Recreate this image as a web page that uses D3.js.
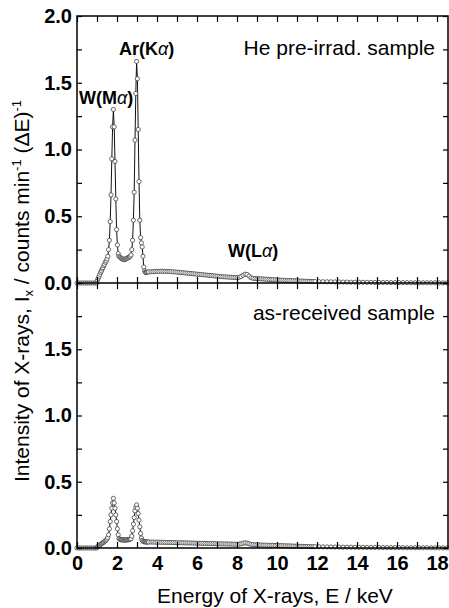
<!DOCTYPE html>
<html>
<head>
<meta charset="utf-8">
<script src="https://cdnjs.cloudflare.com/ajax/libs/d3/7.8.5/d3.min.js"></script>
<style>
  body { margin: 0; background: #fff; }
  svg { display: block; font-family: "Liberation Sans", Arial, sans-serif; }
  .tick text { font-weight: bold; font-size: 20px; fill: #000; }
  .tick line { stroke: #000; stroke-width: 1.2; }
</style>
</head>
<body>
<div id="chart"></div>
<script>
// channel energies (keV)
var baseEnergy = [0, 0.1, 0.2, 0.3, 0.4, 0.5, 0.6, 0.7, 0.8, 0.9];
var peakEnergy = [
  0.98, 1.02, 1.06, 1.10, 1.14, 1.18, 1.22, 1.26, 1.30, 1.34,
  1.38, 1.42, 1.46, 1.50, 1.54, 1.58, 1.62, 1.66, 1.70, 1.74,
  1.78, 1.82, 1.86, 1.90, 1.94, 1.98, 2.02, 2.06, 2.10, 2.14,
  2.18, 2.22, 2.26, 2.30, 2.34, 2.38, 2.42, 2.46, 2.50, 2.54,
  2.58, 2.62, 2.66, 2.70, 2.74, 2.78, 2.82, 2.86, 2.90, 2.94,
  2.98, 3.02, 3.06, 3.10, 3.14, 3.18, 3.22, 3.26, 3.30, 3.34,
  3.38, 3.42, 3.46, 3.50, 3.54, 3.58];
var tailEnergy = [
  3.7, 3.8, 3.9, 4.0, 4.1, 4.2, 4.3, 4.4, 4.5, 4.6,
  4.7, 4.8, 4.9, 5.0, 5.1, 5.2, 5.3, 5.4, 5.5, 5.6,
  5.7, 5.8, 5.9, 6.0, 6.1, 6.2, 6.3, 6.4, 6.5, 6.6,
  6.7, 6.8, 6.9, 7.0, 7.1, 7.2, 7.3, 7.4, 7.5, 7.6,
  7.7, 7.8, 7.9, 8.0, 8.1, 8.2, 8.3, 8.4, 8.5, 8.6,
  8.7, 8.8, 8.9, 9.0, 9.1, 9.2, 9.3, 9.4, 9.5, 9.6,
  9.7, 9.8, 9.9, 10.0, 10.1, 10.2, 10.3, 10.4, 10.5, 10.6,
  10.7, 10.8, 10.9, 11.0, 11.1, 11.2, 11.3, 11.4, 11.5, 11.6,
  11.7, 11.8, 11.9,
  12.1, 12.3, 12.5, 12.7, 12.9, 13.1, 13.3, 13.5, 13.7, 13.9,
  14.1, 14.3, 14.5, 14.7, 14.9, 15.1, 15.3, 15.5, 15.7, 15.9,
  16.1, 16.3, 16.5, 16.7, 16.9, 17.1, 17.3, 17.5, 17.7, 17.9,
  18.1, 18.3, 18.5];

// He pre-irradiated sample, counts min^-1 (dE)^-1
var heBase = [0, 0, 0, 0, 0, 0, 0, 0, 0, 0];
var hePeak = [
  0.00, 0.02, 0.035, 0.05, 0.065, 0.08, 0.09, 0.105, 0.115, 0.13,
  0.14, 0.155, 0.165, 0.18, 0.20, 0.25, 0.32, 0.46, 0.66, 0.93,
  1.17, 1.30, 1.17, 0.91, 0.63, 0.40, 0.285, 0.22, 0.20, 0.195,
  0.19, 0.185, 0.18, 0.18, 0.175, 0.175, 0.18, 0.18, 0.185, 0.19,
  0.19, 0.195, 0.20, 0.21, 0.25, 0.32, 0.47, 0.68, 1.07, 1.42,
  1.66, 1.53, 1.15, 0.76, 0.47, 0.34, 0.30, 0.27, 0.20, 0.12,
  0.09, 0.08, 0.078, 0.08, 0.082, 0.083];
var heTail = [
  0.084, 0.085, 0.086, 0.087, 0.087, 0.088, 0.088, 0.087, 0.087, 0.086,
  0.085, 0.084, 0.083, 0.081, 0.080, 0.078, 0.077, 0.075, 0.074, 0.072,
  0.071, 0.069, 0.068, 0.066, 0.065, 0.063, 0.062, 0.060, 0.059, 0.057,
  0.056, 0.054, 0.053, 0.051, 0.050, 0.048, 0.047, 0.046, 0.045, 0.044,
  0.043, 0.042, 0.041, 0.040, 0.042, 0.048, 0.058, 0.066, 0.064, 0.052,
  0.040, 0.035, 0.034, 0.033, 0.032, 0.031, 0.030, 0.029, 0.028, 0.027,
  0.026, 0.025, 0.024, 0.023, 0.022, 0.021, 0.021, 0.020, 0.019, 0.019,
  0.018, 0.017, 0.017, 0.016, 0.015, 0.015, 0.014, 0.013, 0.013, 0.012,
  0.012, 0.011, 0.011,
  0.010, 0.010, 0.009, 0.009, 0.008, 0.008, 0.007, 0.007, 0.006, 0.006,
  0.006, 0.005, 0.005, 0.005, 0.004, 0.004, 0.004, 0.004, 0.003, 0.003,
  0.003, 0.003, 0.003, 0.002, 0.002, 0.002, 0.002, 0.002, 0.002, 0.002,
  0.001, 0.001, 0.001];

// as-received sample
var arBase = [0, 0, 0, 0, 0, 0, 0, 0, 0, 0];
var arPeak = [
  0.00, 0.008, 0.012, 0.018, 0.022, 0.027, 0.032, 0.036, 0.04, 0.045,
  0.05, 0.055, 0.06, 0.068, 0.08, 0.10, 0.145, 0.20, 0.25, 0.30,
  0.34, 0.375, 0.34, 0.30, 0.25, 0.20, 0.145, 0.10, 0.072, 0.065,
  0.063, 0.062, 0.062, 0.061, 0.06, 0.06, 0.06, 0.061, 0.062, 0.062,
  0.063, 0.064, 0.066, 0.07, 0.09, 0.13, 0.18, 0.23, 0.28, 0.31,
  0.325, 0.30, 0.26, 0.21, 0.16, 0.11, 0.075, 0.058, 0.05, 0.048,
  0.047, 0.046, 0.046, 0.045, 0.045, 0.045];
var arTail = [
  0.045, 0.045, 0.044, 0.044, 0.044, 0.043, 0.043, 0.043, 0.042, 0.042,
  0.042, 0.041, 0.041, 0.040, 0.040, 0.040, 0.039, 0.039, 0.038, 0.038,
  0.038, 0.037, 0.037, 0.036, 0.036, 0.035, 0.035, 0.035, 0.034, 0.034,
  0.033, 0.033, 0.033, 0.032, 0.032, 0.031, 0.031, 0.031, 0.030, 0.030,
  0.030, 0.029, 0.029, 0.028, 0.029, 0.032, 0.036, 0.039, 0.037, 0.032,
  0.027, 0.025, 0.024, 0.024, 0.023, 0.023, 0.022, 0.022, 0.021, 0.021,
  0.020, 0.020, 0.019, 0.019, 0.018, 0.018, 0.017, 0.017, 0.016, 0.016,
  0.015, 0.015, 0.014, 0.014, 0.013, 0.013, 0.012, 0.012, 0.011, 0.011,
  0.010, 0.010, 0.010,
  0.009, 0.009, 0.008, 0.008, 0.007, 0.007, 0.006, 0.006, 0.006, 0.005,
  0.005, 0.005, 0.004, 0.004, 0.004, 0.004, 0.003, 0.003, 0.003, 0.003,
  0.003, 0.002, 0.002, 0.002, 0.002, 0.002, 0.002, 0.002, 0.001, 0.001,
  0.001, 0.001, 0.001];

// ticks
var xTicks = [0, 2, 4, 6, 8, 10, 12, 14, 16, 18];
var xMinorTicks = [1, 3, 5, 7, 9, 11, 13, 15, 17];
var yTicksTop = [0, 0.5, 1.0, 1.5, 2.0];
var yTicksBottom = [0, 0.5, 1.0, 1.5];
var yMinorTicks = [0.25, 0.75, 1.25, 1.75];

var width = 449, height = 608;
var plotLeft = 77, plotRight = 448, plotTop = 16, plotMid = 283, plotBottom = 548;

var svg = d3.select("#chart").append("svg")
    .attr("width", width)
    .attr("height", height);

var x = d3.scaleLinear()
    .domain([0, 18.55])
    .range([plotLeft, plotRight]);

var yTop = d3.scaleLinear().domain([0, 2]).range([plotMid, plotTop]);
var yBottom = d3.scaleLinear().domain([0, 2]).range([plotBottom, plotMid]);

function makeSeries(energies, values) {
  return energies.map(function(e, i) { return {e: e, v: values[i]}; });
}

function drawYAxis(yScale, labelled) {
  // left, labelled
  svg.append("g")
      .attr("transform", "translate(" + plotLeft + ",0)")
      .call(d3.axisLeft(yScale).tickValues(labelled).tickSize(-5).tickPadding(5)
        .tickFormat(d3.format(".1f")));
  svg.append("g")
      .attr("transform", "translate(" + plotLeft + ",0)")
      .call(d3.axisLeft(yScale).tickValues(yMinorTicks).tickSize(-5).tickFormat(""));
  // right, no labels
  svg.append("g")
      .attr("transform", "translate(" + plotRight + ",0)")
      .call(d3.axisRight(yScale).tickValues(yTicksTop.concat(yMinorTicks)).tickSize(-5).tickFormat(""));
}

function drawXTicks(axisFn, yPos, withLabels) {
  svg.append("g")
      .attr("transform", "translate(0," + yPos + ")")
      .call(axisFn(x).tickValues(xTicks).tickSize(-6).tickPadding(8)
        .tickFormat(withLabels ? d3.format("d") : ""));
  svg.append("g")
      .attr("transform", "translate(0," + yPos + ")")
      .call(axisFn(x).tickValues(xMinorTicks).tickSize(-6).tickFormat(""));
}

function drawSeries(yScale, data) {
  var line = d3.line()
      .x(function(d) { return x(d.e); })
      .y(function(d) { return yScale(d.v); });

  svg.append("path")
      .datum(data)
      .attr("fill", "none")
      .attr("stroke", "#111")
      .attr("stroke-width", 1)
      .attr("d", line);

  svg.append("g")
    .selectAll("circle")
    .data(data)
    .enter().append("circle")
      .attr("cx", function(d) { return x(d.e); })
      .attr("cy", function(d) { return yScale(d.v); })
      .attr("r", 2.1)
      .attr("fill", "#fff")
      .attr("stroke", "#444")
      .attr("stroke-width", 0.8);
}

// Data
var heData = makeSeries(baseEnergy.concat(peakEnergy, tailEnergy), heBase.concat(hePeak, heTail));
var arData = makeSeries(baseEnergy.concat(peakEnergy, tailEnergy), arBase.concat(arPeak, arTail));

drawSeries(yTop, heData);
drawSeries(yBottom, arData);

// Axes
drawYAxis(yTop, yTicksTop);
drawYAxis(yBottom, yTicksBottom);
drawXTicks(d3.axisTop, plotTop, false);
drawXTicks(d3.axisBottom, plotMid, false);
drawXTicks(d3.axisTop, plotMid, false);
drawXTicks(d3.axisBottom, plotBottom, true);
svg.selectAll(".domain").remove();

// Frame
svg.append("rect")
    .attr("x", plotLeft)
    .attr("y", plotTop)
    .attr("width", plotRight - plotLeft)
    .attr("height", plotBottom - plotTop)
    .attr("fill", "none")
    .attr("stroke", "#000")
    .attr("stroke-width", 1.5);
svg.append("line")
    .attr("x1", plotLeft).attr("x2", plotRight)
    .attr("y1", plotMid).attr("y2", plotMid)
    .attr("stroke", "#000")
    .attr("stroke-width", 1.5);

// Peak labels
function peakLabel(xPos, yPos, before) {
  var t = svg.append("text")
      .attr("x", xPos)
      .attr("y", yPos)
      .attr("font-size", 18)
      .attr("font-weight", "bold");
  t.append("tspan").text(before);
  t.append("tspan").attr("font-weight", "normal").attr("font-style", "italic").text("α");
  t.append("tspan").text(")");
}
peakLabel(79, 104, "W(M");
peakLabel(119, 55, "Ar(K");
peakLabel(228, 257, "W(L");

// Sample labels
svg.append("text")
    .attr("x", 435)
    .attr("y", 55)
    .attr("text-anchor", "end")
    .attr("font-size", 21)
    .text("He pre-irrad. sample");
svg.append("text")
    .attr("x", 435)
    .attr("y", 320)
    .attr("text-anchor", "end")
    .attr("font-size", 21)
    .text("as-received sample");

// X title
svg.append("text")
    .attr("x", 275)
    .attr("y", 603)
    .attr("text-anchor", "middle")
    .attr("font-size", 21)
    .text("Energy of X-rays, E / keV");

// Y title
var yTitle = svg.append("text")
    .attr("transform", "translate(29,291) rotate(-90)")
    .attr("text-anchor", "middle")
    .attr("font-size", 21);
yTitle.append("tspan").text("Intensity of X-rays, I");
yTitle.append("tspan").attr("font-size", 13).attr("dy", 4).text("x");
yTitle.append("tspan").attr("dy", -4).text(" / counts min");
yTitle.append("tspan").attr("font-size", 13).attr("dy", -8).text("-1");
yTitle.append("tspan").attr("dy", 8).text(" (ΔE)");
yTitle.append("tspan").attr("font-size", 13).attr("dy", -8).text("-1");
</script>
</body>
</html>
